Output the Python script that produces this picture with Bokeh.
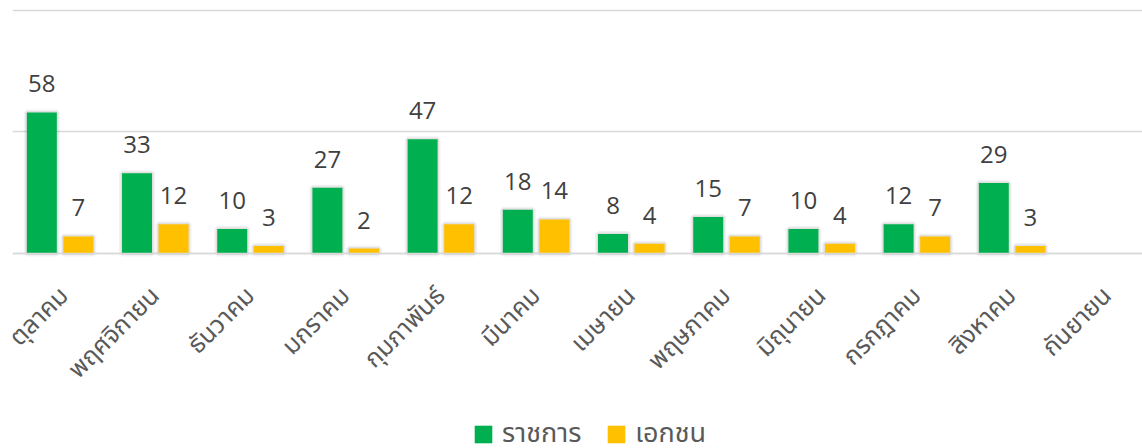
import math
from bokeh.plotting import figure
from bokeh.models import (ColumnDataSource, Range1d, FixedTicker, Legend, LegendItem,
                          CustomJSTickFormatter)
from bokeh.transform import dodge
from bokeh.embed import file_html
from bokeh.resources import INLINE
from bokeh.core.properties import value

months = ["ตุลาคม", "พฤศจิกายน", "ธันวาคม", "มกราคม", "กุมภาพันธ์", "มีนาคม",
          "เมษายน", "พฤษภาคม", "มิถุนายน", "กรกฎาคม", "สิงหาคม", "กันยายน"]
gov = [58, 33, 10, 27, 47, 18, 8, 15, 10, 12, 29]
priv = [7, 12, 3, 2, 12, 14, 4, 7, 4, 7, 3]
series_names = ["ราชการ", "เอกชน"]
gridlines = [0, 50, 100]

GREEN = "#00B050"
GOLD = "#FFC000"
THAI_FONT = "Tahoma, 'Noto Sans Thai', 'Noto Sans', sans-serif"

centers = [i + 0.5 for i in range(len(months))]
src = ColumnDataSource(dict(
    x=centers[:len(gov)],
    gov=gov, priv=priv,
    gov_s=[str(v) for v in gov],
    priv_s=[str(v) for v in priv],
))

# frame spans the whole lower area; the category axis sits at value 0
p = figure(width=1142, height=448, output_backend="svg", toolbar_location=None,
           x_range=Range1d(0, 11.87), y_range=Range1d(-80.3, 100.8),
           min_border_left=12, min_border_right=0, min_border_top=8, min_border_bottom=0)
p.outline_line_color = None
p.background_fill_color = "white"
p.border_fill_color = "white"

# soft shadow around the bars
for col, off in (("gov", -0.192), ("priv", 0.192)):
    p.vbar(x=dodge("x", off, range=p.x_range), top=col, width=0.315, source=src,
           fill_color=None, line_color="#000000", line_alpha=0.05, line_width=6)
    p.vbar(x=dodge("x", off, range=p.x_range), top=col, width=0.315, source=src,
           fill_color=None, line_color="#000000", line_alpha=0.07, line_width=3)

r1 = p.vbar(x=dodge("x", -0.192, range=p.x_range), top="gov", width=0.315, source=src,
            fill_color=GREEN, line_color=None)
r2 = p.vbar(x=dodge("x", 0.192, range=p.x_range), top="priv", width=0.315, source=src,
            fill_color=GOLD, line_color=None)

common = dict(text_align="center", text_baseline="bottom", y_offset=-20,
              text_font=value("Open Sans"), text_font_size="24px", text_color="#404040")
p.text(x=dodge("x", -0.192, range=p.x_range), y="gov", text="gov_s", source=src, **common)
p.text(x=dodge("x", 0.192, range=p.x_range), y="priv", text="priv_s", source=src, **common)

p.yaxis.visible = False
p.ygrid.ticker = FixedTicker(ticks=gridlines)
p.ygrid.grid_line_color = "#d9d9d9"
p.ygrid.grid_line_width = 1.5
p.xgrid.grid_line_color = None

ax = p.xaxis[0]
ax.fixed_location = 0
ax.ticker = FixedTicker(ticks=centers)
ax.formatter = CustomJSTickFormatter(args=dict(months=months),
                                     code="return months[Math.floor(tick)];")
ax.axis_line_color = "#d9d9d9"
ax.axis_line_width = 1.5
ax.major_tick_line_color = None
ax.minor_tick_line_color = None
ax.major_label_orientation = math.pi / 4
ax.major_label_text_font = THAI_FONT
ax.major_label_text_font_size = "25px"
ax.major_label_text_color = "#595959"
ax.major_label_standoff = 32

legend = Legend(items=[LegendItem(label=series_names[0], renderers=[r1]),
                       LegendItem(label=series_names[1], renderers=[r2])],
                orientation="horizontal", location=(460, -6),
                glyph_width=22, glyph_height=22, label_standoff=8, spacing=24,
                label_text_font=THAI_FONT,
                label_text_font_size="27px", label_text_color="#595959",
                border_line_color=None, background_fill_alpha=0, padding=0, margin=0)
p.add_layout(legend, "center")

open("out.html", "w").write(file_html(p, INLINE))
